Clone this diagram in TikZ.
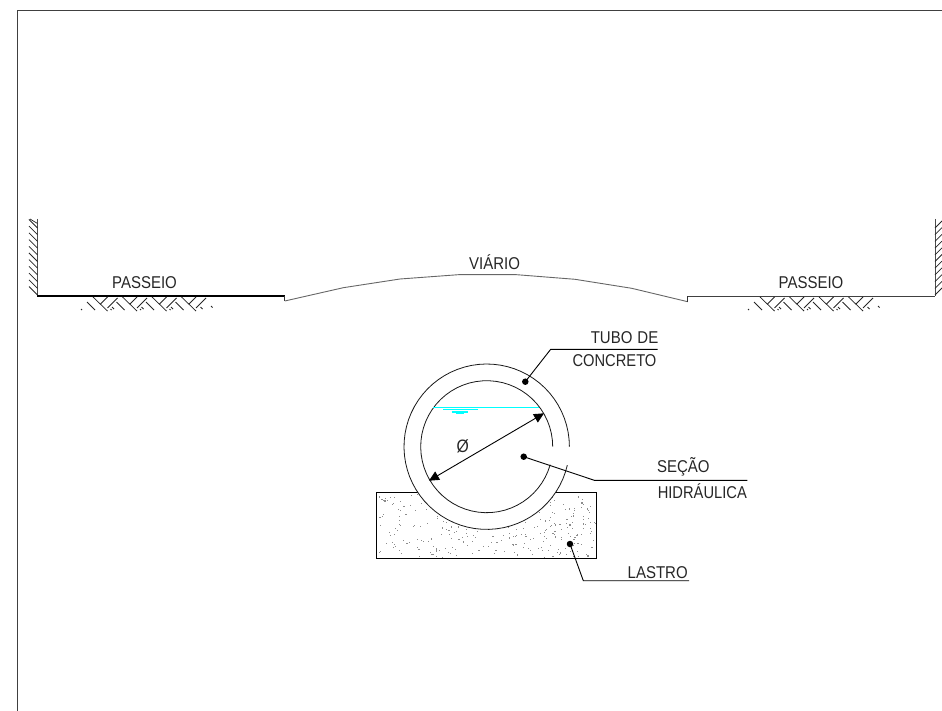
\documentclass[tikz,border=0pt]{standalone}
\usepackage{fontspec}
\setmainfont{Liberation Sans}
\usetikzlibrary{arrows.meta}
\definecolor{wat}{rgb}{0,1,1}
\tikzset{
  lbl/.style={inner sep=0pt,font=\fontsize{15}{15}\selectfont,text=black!85,yscale=1.14},
  leaddot/.style={circle,fill=black,inner sep=0pt,minimum size=6.5pt},
  leader/.style={line width=0.9pt,black},
  pipe/.style={line width=0.8pt,black!90},
  hatch/.style={line width=0.75pt,black!85},
  waterline/.style={line width=1pt,draw=wat},
  waterblob/.style={line width=1.8pt,draw=wat},
}
\newcommand{\soil}[1]{%
  \foreach \i in {0,1,2,3}{
    \pgfmathsetmacro{\xa}{#1+29.5*\i}
    \draw[hatch] (\xa,297)--(\xa+14.5,311);
    \draw[hatch] (\xa-6,302)--(\xa+2,310);
    \draw[hatch] (\xa+24.5,298)--(\xa+14.5,308);
    \draw[hatch] (\xa+14.5,297)--(\xa+7.5,304);
    \draw[hatch] (\xa-12,309)--(\xa-11,310);
    \draw[hatch] (\xa+19,307)--(\xa+21,309);
  }
  \draw[hatch] (#1+118,306)--(#1+119.5,307.5);}
\begin{document}
\begin{tikzpicture}[x=1pt,y=-1pt]
\useasboundingbox (0,0) rectangle (942,711);
% sheet frame
\draw[line width=1.3pt,black!75] (17.3,711)--(17.3,10.8)--(942,10.8);
% walls
\draw[line width=1.4pt,black!70] (37.5,219)--(37.5,296);
\draw[line width=1pt,black!70] (935,219)--(935,296);
\foreach \i in {0,...,10}{
  \pgfmathsetmacro{\ya}{228+6.7*\i}
  \draw[hatch] (29,\ya-8.5)--(37.5,\ya);
  \pgfmathsetmacro{\yb}{228+6.7*\i}
  \draw[hatch] (935,\yb)--(942,\yb-7);
}
\draw[hatch] (30,219)--(37.5,223.5);
% ground
\draw[line width=1.6pt,black] (37,296)--(284.8,296);
\draw[line width=0.9pt,black!80] (284.8,295.5)--(284.8,301);
\draw[line width=0.9pt,black!60] (284.8,301)--(343.3,287.7)--(400,279)--(458.3,274.7)--(516.7,274.7)--(575,279.3)--(631.7,288.3)--(687.7,301.7);
\draw[line width=0.9pt,black!80] (687.7,301.7)--(687.7,296);
\draw[line width=1pt,black!75] (687.7,296)--(935,296);
\soil{93}
\soil{760}
% bed
\pgfmathsetseed{4711}
\foreach \k in {1,...,320}{
  \pgfmathsetmacro{\dx}{378+217*rnd}
  \pgfmathsetmacro{\dy}{494+63*rnd}
  \fill[black!45] (\dx,\dy) rectangle ++(1.1,1.1);
}
\draw[line width=0.9pt,black] (376.3,492.3) rectangle (596.7,558.3);
% pipe
\fill[white] (486.7,446.7) circle[radius=82.7];
\draw[pipe] plot[domain=12.9:360,samples=70] ({486.7+82.7*cos(\x)},{446.7+82.7*sin(\x)});
\draw[pipe] plot[domain=15.8:360,samples=60] ({486.7+66*cos(\x)},{446.7+66*sin(\x)});
% water level
\draw[waterline] (433.3,407.6)--(539.3,407.6);
\draw[waterline] (443.3,409.6)--(477.7,409.6);
\draw[waterblob] (451.7,411.8)--(468.3,411.8);
\draw[waterblob] (456,413.4)--(464,413.4);
% diameter
\coordinate (da) at (544,413.3);
\coordinate (db) at (429,480.7);
\draw[line width=0.9pt,black,{Triangle[length=10pt,width=9.5pt]}-{Triangle[length=10pt,width=9.5pt]}] (db)--(da);
\node[lbl,scale=1.05] (dia) at (462.7,446.7) {Ø};
% labels
\node[lbl] (p1) at (144.5,282.7) {PASSEIO};
\node[lbl] (p2) at (811,282.7) {PASSEIO};
\node[lbl] (vi) at (494.5,261.7) {VIÁRIO};
\node[lbl] (t1) at (624.5,338) {TUBO\hspace{5pt}DE};
\node[lbl,xscale=0.98] (t2) at (614.5,361) {CONCRETO};
\node[lbl] (s1) at (683.3,466.7) {SEÇÃO};
\node[lbl,xscale=0.98] (s2) at (702.3,490.7) {HIDRÁULICA};
\node[lbl] (l1) at (657.7,572.3) {LASTRO};
% leaders
\node[leaddot] (dt) at (525.3,381.7) {};
\coordinate (et) at (550.7,349.3);
\coordinate (ft) at (657.7,349.3);
\draw[leader] (dt.center)--(et)--(ft);
\node[leaddot] (ds) at (523.7,456.7) {};
\coordinate (es) at (594.3,480.3);
\coordinate (fs) at (747.3,480.3);
\draw[leader] (ds.center)--(es)--(fs);
\node[leaddot] (dl) at (570,544) {};
\coordinate (el) at (583.3,580.7);
\coordinate (fl) at (689,580.7);
\draw[leader] (dl.center)--(el)--(fl);
\end{tikzpicture}
\end{document}
